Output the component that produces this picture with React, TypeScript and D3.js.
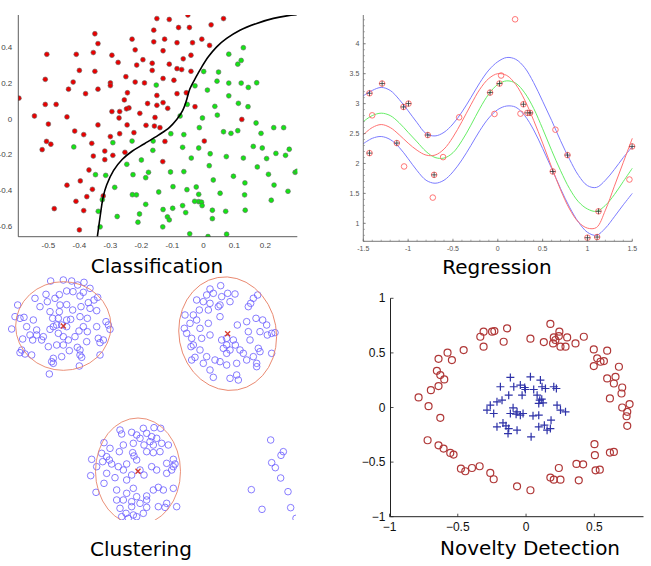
import React from 'react';
import * as d3 from 'd3';

type P = [number, number];

// ---------------- Classification ----------------
const classRed: P[] = [
  [-0.05, 0.58], [-0.15, 0.56], [-0.11, 0.555], [0.065, 0.56], [0.025, 0.525], [-0.08, 0.51], [-0.045, 0.51],
  [-0.16, 0.495], [-0.35, 0.475], [-0.34, 0.42], [-0.23, 0.445], [-0.16, 0.43], [-0.125, 0.445], [-0.085, 0.425],
  [-0.035, 0.425], [-0.005, 0.445], [0.02, 0.41], [-0.505, 0.36], [-0.41, 0.36], [-0.355, 0.37], [-0.295, 0.355],
  [-0.275, 0.315], [-0.22, 0.385], [-0.13, 0.38], [-0.195, 0.33], [-0.215, 0.3], [-0.165, 0.31], [-0.04, 0.355],
  [-0.065, 0.335], [-0.11, 0.305], [-0.085, 0.28], [-0.07, 0.275], [-0.165, 0.27], [-0.04, 0.265], [-0.4, 0.27],
  [-0.35, 0.265], [-0.25, 0.235], [-0.51, 0.22], [-0.42, 0.205], [-0.3, 0.2], [-0.3, 0.185], [-0.22, 0.205],
  [-0.19, 0.2], [-0.13, 0.225], [-0.095, 0.215], [-0.15, 0.13], [-0.055, 0.145], [-0.435, 0.165], [-0.38, 0.14],
  [-0.34, 0.165], [-0.245, 0.145], [-0.255, 0.105], [-0.085, 0.14], [-0.595, 0.115], [-0.51, 0.08], [-0.475, 0.08],
  [-0.295, 0.04], [-0.27, 0.04], [-0.24, 0.06], [-0.248, 0.055], [-0.15, 0.075], [-0.115, 0.058], [-0.13, 0.09],
  [-0.18, 0.085], [-0.205, 0.03], [-0.027, 0.067], [-0.545, 0.015], [-0.44, 0.01], [-0.5, -0.03], [-0.34, -0.035],
  [-0.272, 0.004], [-0.246, -0.035], [-0.185, -0.037], [-0.156, 0.007], [-0.158, -0.041], [-0.14, -0.05],
  [0.124, -0.004], [-0.415, -0.069], [-0.386, -0.089], [-0.3, -0.1], [-0.27, -0.084], [-0.224, -0.078],
  [-0.506, -0.127], [-0.492, -0.143], [-0.52, -0.173], [-0.36, -0.138], [-0.318, -0.181], [-0.292, -0.205],
  [-0.355, -0.209], [-0.253, -0.188], [-0.124, -0.127], [0.003, -0.125], [-0.318, -0.229], [-0.131, -0.24],
  [-0.369, -0.287], [-0.44, -0.372], [-0.358, -0.395], [-0.411, -0.462], [-0.397, -0.348], [-0.376, -0.436],
  [-0.323, -0.432], [-0.481, -0.503], [-0.386, -0.514], [-0.4, -0.622],
];

const classGreen: P[] = [
  [0.129, 0.397], [0.082, 0.361], [0.122, 0.326], [0.111, 0.305], [0.001, 0.264], [0.049, 0.261], [-0.152, 0.188],
  [0.044, 0.21], [0.082, 0.199], [0.122, 0.199], [0.172, 0.201], [0.145, 0.175], [-0.027, 0.184], [0.013, 0.16],
  [0.082, 0.128], [0.037, 0.069], [0.113, 0.086], [0.144, 0.067], [-0.052, 0.08], [-0.075, 0.015], [-0.003, 0.004],
  [0.045, 0.02], [0.17, -0.024], [0.259, -0.05], [0.227, -0.05], [-0.013, -0.05], [0.065, -0.073], [0.089, -0.082],
  [0.111, -0.067], [0.186, -0.082], [-0.105, -0.084], [-0.063, -0.089], [-0.067, -0.16], [-0.162, -0.125],
  [-0.23, -0.125], [-0.292, -0.134], [-0.418, -0.158], [-0.163, -0.177], [-0.015, -0.164], [-0.039, -0.22],
  [0.022, -0.196], [0.074, -0.212], [0.129, -0.22], [0.161, -0.155], [0.19, -0.164], [0.234, -0.194],
  [0.265, -0.205], [0.277, -0.171], [0.204, -0.223], [0.174, -0.27], [0.019, -0.263], [-0.2, -0.231],
  [-0.247, -0.255], [-0.106, -0.298], [-0.063, -0.296], [-0.177, -0.3], [-0.227, -0.313], [-0.186, -0.33],
  [-0.348, -0.313], [-0.315, -0.317], [0.097, -0.322], [0.21, -0.311], [0.296, -0.3], [0.302, -0.294],
  [0.032, -0.343], [0.134, -0.359], [0.228, -0.371], [0.273, -0.406], [-0.286, -0.384], [-0.144, -0.41],
  [-0.098, -0.38], [-0.053, -0.397], [-0.023, -0.382], [-0.015, -0.423], [-0.229, -0.425], [-0.216, -0.426],
  [-0.326, -0.453], [-0.015, -0.464], [-0.006, -0.467], [-0.028, -0.462], [-0.067, -0.486], [-0.186, -0.479],
  [0.133, -0.426], [0.054, -0.417], [0.219, -0.456], [0.135, -0.512], [-0.13, -0.508], [-0.099, -0.501],
  [-0.057, -0.525], [0.029, -0.512], [0.072, -0.518], [-0.339, -0.518], [-0.004, -0.486], [-0.116, -0.549],
  [-0.11, -0.566], [-0.278, -0.547], [-0.206, -0.533], [-0.211, -0.579], [0.029, -0.559], [-0.333, -0.605],
  [-0.131, -0.605], [-0.044, -0.644], [0.015, -0.659], [0.075, -0.646],
];

const boundary: P[] = [
  [-0.342, -0.66], [-0.333, -0.547], [-0.323, -0.436], [-0.312, -0.371], [-0.29, -0.29], [-0.262, -0.228],
  [-0.23, -0.182], [-0.19, -0.14], [-0.145, -0.092], [-0.11, -0.05], [-0.086, -0.005], [-0.067, 0.045],
  [-0.055, 0.1], [-0.044, 0.165], [-0.024, 0.232], [-0.005, 0.29], [0.016, 0.346], [0.043, 0.402],
  [0.075, 0.449], [0.118, 0.495], [0.172, 0.533], [0.226, 0.561], [0.269, 0.575], [0.301, 0.581],
];
const classXTicks = [-0.5, -0.4, -0.3, -0.2, -0.1, 0, 0.1, 0.2];
const classYTicks = [0.4, 0.2, 0, -0.2, -0.4, -0.6];

// ---------------- Regression ----------------
const regX = [-1.5, -1.4, -1.3, -1.2, -1.1, -1.0, -0.9, -0.8, -0.7, -0.6, -0.5, -0.4, -0.3, -0.2, -0.1, 0,
  0.1, 0.2, 0.3, 0.4, 0.5, 0.6, 0.7, 0.8, 0.9, 1.0, 1.1, 1.2, 1.3, 1.4, 1.5];
const regUpper = [3.13, 3.22, 3.27, 3.22, 3.07, 2.88, 2.68, 2.5, 2.46, 2.52, 2.66, 2.86, 3.1, 3.35, 3.56, 3.7,
  3.77, 3.74, 3.6, 3.35, 3.04, 2.72, 2.38, 2.07, 1.8, 1.63, 1.6, 1.72, 1.9, 2.1, 2.28];
const regLower = [2.33, 2.42, 2.45, 2.4, 2.27, 2.08, 1.88, 1.72, 1.67, 1.72, 1.86, 2.06, 2.3, 2.55, 2.76, 2.9,
  2.96, 2.94, 2.8, 2.56, 2.25, 1.92, 1.58, 1.27, 1.02, 0.85, 0.8, 0.92, 1.11, 1.31, 1.5];
const regRed = [2.48, 2.6, 2.65, 2.6, 2.48, 2.34, 2.22, 2.14, 2.14, 2.24, 2.44, 2.7, 2.98, 3.24, 3.42, 3.5,
  3.47, 3.32, 3.06, 2.72, 2.34, 1.94, 1.56, 1.24, 1.02, 0.92, 0.93, 1.22, 1.62, 2.02, 2.42];
const regGreen = [2.7, 2.8, 2.84, 2.8, 2.68, 2.52, 2.36, 2.2, 2.1, 2.09, 2.18, 2.38, 2.64, 2.92, 3.16, 3.32,
  3.38, 3.34, 3.18, 2.92, 2.58, 2.22, 1.88, 1.58, 1.36, 1.24, 1.2, 1.3, 1.48, 1.7, 1.92];
const regMarked: P[] = [
  [-1.431, 3.173], [-1.29, 3.335], [-1.052, 2.944], [-0.996, 3.0], [-1.126, 2.341], [-1.431, 2.173],
  [-0.781, 2.475], [-0.71, 1.81], [-0.086, 3.184], [0.019, 3.335], [0.286, 2.989], [0.33, 2.845], [0.36, 2.845],
  [0.613, 1.866], [0.777, 2.14], [1.123, 1.201], [1.108, 0.771], [1.0, 0.76], [1.498, 2.285],
];
const regOpen: P[] = [
  [0.193, 4.408], [0.037, 3.469], [-1.401, 2.804], [-0.431, 2.771], [-0.037, 2.827], [0.253, 2.832],
  [0.643, 2.564], [-1.045, 1.95], [-0.61, 2.106], [-0.725, 1.43], [1.468, 1.732],
];
const regXTicks = [-1.5, -1, -0.5, 0, 0.5, 1, 1.5];
const regYTicks = [1, 1.5, 2, 2.5, 3, 3.5, 4];

// ---------------- Clustering ----------------
const clusterA: P[] = [
  [15.2, 71.7], [19.0, 72.0], [21.5, 71.7], [25.2, 71.3], [23.3, 70.5], [27.0, 69.5], [29.3, 66.8], [28.2, 66.0],
  [26.5, 65.2], [25.0, 68.3], [24.0, 67.2], [21.9, 68.5], [20.0, 68.7], [17.8, 67.6], [16.5, 66.5], [13.8, 67.7],
  [10.5, 66.5], [12.0, 64.0], [14.2, 65.5], [5.3, 64.5], [18.0, 64.5], [20.0, 64.6], [21.8, 63.0], [24.3, 64.0],
  [27.0, 63.5], [29.0, 62.8], [4.5, 61.0], [6.0, 60.5], [7.2, 60.8], [10.0, 60.0], [15.0, 62.5], [17.8, 62.5],
  [15.8, 60.5], [17.5, 60.5], [20.0, 60.0], [21.2, 60.2], [24.0, 61.0], [26.2, 60.5], [29.0, 58.0], [31.8, 59.5],
  [32.5, 58.5], [33.0, 57.2], [3.5, 57.3], [8.0, 58.0], [11.0, 57.0], [9.0, 55.5], [11.0, 55.5], [12.5, 54.0],
  [13.0, 55.0], [6.8, 54.3], [9.8, 54.0], [16.0, 58.0], [17.0, 58.5], [15.0, 57.2], [18.5, 58.5], [20.0, 58.0],
  [23.7, 56.7], [25.0, 58.0], [26.2, 56.5], [17.5, 56.0], [20.5, 54.0], [19.0, 55.0], [22.5, 55.0], [29.5, 54.5],
  [31.0, 54.0], [30.0, 53.2], [17.0, 52.5], [19.0, 52.5], [14.5, 52.0], [20.8, 50.8], [23.2, 51.8], [26.0, 53.5],
  [24.0, 51.0], [6.5, 51.0], [7.5, 49.8], [9.5, 49.5], [6.0, 50.2], [18.5, 49.0], [16.0, 48.5], [24.0, 49.5],
  [24.5, 48.8], [30.0, 49.5], [16.0, 47.0], [15.5, 47.5], [23.8, 46.2], [14.8, 43.8],
];
const clusterB: P[] = [
  [63.0, 69.3], [66.2, 70.3], [62.0, 67.5], [64.0, 68.0], [68.3, 68.0], [70.5, 67.8], [66.5, 67.0], [59.0, 66.0],
  [61.0, 65.5], [63.0, 65.0], [66.0, 64.5], [69.0, 65.5], [77.3, 67.5], [76.0, 66.5], [75.2, 65.0], [74.5, 64.0],
  [55.5, 61.5], [58.0, 61.5], [62.5, 63.0], [65.5, 64.0], [59.8, 63.0], [59.0, 60.0], [57.0, 59.0], [55.3, 57.5],
  [60.0, 57.5], [62.5, 59.0], [66.0, 61.0], [71.2, 58.5], [74.0, 59.5], [76.8, 60.5], [78.8, 60.0], [80.0, 58.5],
  [56.0, 56.0], [57.5, 54.5], [58.0, 52.5], [60.5, 54.5], [63.0, 55.5], [66.5, 54.0], [68.0, 54.5], [70.0, 54.0],
  [70.6, 52.5], [74.5, 56.5], [75.0, 54.0], [78.0, 56.5], [80.2, 55.5], [81.5, 56.0], [82.5, 56.2], [57.3, 52.0],
  [60.0, 51.0], [58.5, 48.8], [57.5, 48.0], [62.0, 49.0], [64.5, 48.0], [67.0, 51.5], [69.0, 51.0], [68.0, 52.5],
  [68.0, 50.0], [72.0, 51.0], [73.0, 50.0], [77.5, 51.5], [78.0, 50.5], [81.5, 50.0], [61.0, 47.0], [66.0, 47.5],
  [68.0, 46.5], [71.0, 47.0], [74.0, 48.0], [76.0, 49.0], [77.0, 47.0], [77.0, 46.0], [63.0, 45.0], [64.0, 42.8],
  [69.0, 42.5], [71.0, 43.5], [71.5, 42.0],
];
const clusterC: P[] = [
  [36.0, 27.0], [36.5, 25.8], [39.5, 26.3], [43.0, 27.5], [46.2, 27.7], [48.2, 27.5], [41.0, 25.5], [44.0, 26.0],
  [45.5, 25.0], [47.0, 24.5], [31.2, 23.2], [33.0, 21.5], [30.5, 20.0], [32.0, 19.0], [32.8, 18.0], [35.8, 20.5],
  [37.0, 22.5], [40.0, 23.0], [42.0, 24.5], [43.2, 22.5], [45.0, 23.5], [46.0, 22.5], [50.5, 22.5], [48.5, 23.0],
  [27.5, 18.2], [30.8, 17.5], [33.5, 16.8], [35.5, 16.0], [38.0, 16.8], [39.8, 20.2], [40.2, 19.2], [41.0, 18.0],
  [44.0, 20.5], [46.0, 20.2], [48.0, 20.5], [52.0, 18.2], [52.5, 16.8], [50.0, 17.0], [27.2, 13.3], [29.0, 16.0],
  [32.0, 14.0], [31.2, 11.0], [34.5, 12.7], [37.0, 15.0], [38.0, 12.0], [39.5, 13.5], [42.0, 15.0], [43.2, 13.5],
  [45.5, 16.0], [47.0, 15.0], [50.0, 14.0], [51.5, 15.0], [52.0, 16.0], [28.8, 8.3], [35.0, 9.0], [38.0, 8.0],
  [40.0, 9.5], [41.0, 7.0], [44.0, 7.2], [46.0, 9.0], [47.5, 9.8], [49.0, 9.0], [52.0, 9.5], [35.0, 6.0],
  [37.0, 6.0], [39.5, 5.5], [42.0, 5.0], [44.0, 6.0], [47.5, 4.0], [50.0, 5.0], [49.5, 3.8], [53.0, 4.0],
  [36.0, 3.5], [37.8, 2.0], [40.0, 1.5], [36.5, 1.0], [38.5, 0.5], [41.0, 1.0], [43.0, 2.0], [39.5, 4.0], [44.0, 3.8],
];
const clusterD: P[] = [
  [81.2, 24.0], [85.0, 20.5], [84.3, 19.4], [81.5, 17.2], [82.6, 15.7], [84.2, 12.6], [75.4, 9.1], [86.4, 8.5],
  [78.6, 3.2], [87.2, 3.7], [88.8, 0.5],
];
const clusterCenters: P[] = [[19.0, 58.2], [68.3, 55.9], [41.4, 14.6]];
const clusterSpreadX = [14.3, 14.6, 12.75];
const clusterSpreadY = [13.3, 17.1, 16.0];
const clusterTilt = [0, -10, 0];

// ---------------- Novelty Detection ----------------
const novOut: P[] = [
  [0.178, 0.765], [0.244, 0.694], [0.24, 0.654], [0.301, 0.642], [0.203, 0.642], [0.215, 0.618], [0.13, 0.599],
  [0.032, 0.63], [0.198, 0.587], [0.252, 0.557], [0.289, 0.557], [0.362, 0.587], [0.423, 0.648], [0.496, 0.532],
  [0.594, 0.52], [0.521, 0.45], [0.545, 0.419], [0.57, 0.425], [0.496, 0.379], [0.68, 0.373], [0.594, 0.266],
  [0.655, 0.281], [0.643, 0.22], [0.704, 0.183], [0.699, 0.128], [0.614, 0.083], [0.758, 0.031], [0.704, 0.0],
  [0.741, -0.04], [0.736, -0.08], [0.741, -0.168], [-0.139, 0.725], [-0.164, 0.602], [-0.232, 0.7],
  [-0.249, 0.694], [-0.311, 0.694], [-0.335, 0.648], [-0.311, 0.557], [-0.457, 0.526], [-0.575, 0.502],
  [-0.543, 0.434], [-0.641, 0.446], [-0.653, 0.336], [-0.628, 0.297], [-0.599, 0.257], [-0.641, 0.196],
  [-0.697, 0.159], [-0.787, 0.092], [-0.714, 0.012], [-0.628, -0.095], [-0.721, -0.3], [-0.641, -0.346],
  [-0.604, -0.376], [-0.555, -0.416], [-0.531, -0.431], [-0.477, -0.56], [-0.445, -0.584], [-0.396, -0.554],
  [-0.34, -0.538], [-0.262, -0.599], [-0.237, -0.657], [-0.066, -0.722], [0.032, -0.758], [0.178, -0.642],
  [0.203, -0.661], [0.252, -0.661], [0.24, -0.554], [0.369, -0.517], [0.418, -0.52], [0.386, -0.667],
  [0.501, -0.336], [0.504, -0.437], [0.509, -0.575], [0.54, -0.569], [0.614, -0.413], [0.643, -0.407],
];
const novIn: P[] = [
  [-0.115, 0.275], [0.032, 0.281], [0.105, 0.251], [-0.042, 0.205], [-0.188, 0.19], [-0.09, 0.19], [-0.01, 0.183],
  [0.117, 0.19], [0.142, 0.174], [0.203, 0.19], [0.222, 0.174], [0.056, 0.165], [0.081, 0.113], [-0.127, 0.113],
  [-0.029, 0.113], [-0.213, 0.052], [-0.262, 0.021], [-0.176, 0.067], [-0.095, -0.003], [-0.066, -0.04],
  [0.1, 0.067], [0.093, 0.037], [0.125, 0.043], [0.227, 0.021], [0.252, -0.024], [0.289, -0.04], [-0.286, -0.024],
  [-0.237, -0.055], [-0.115, -0.055], [-0.042, -0.07], [-0.022, -0.055], [0.051, -0.076], [0.093, -0.07],
  [0.183, -0.116], [0.134, -0.162], [0.093, -0.177], [0.178, -0.193], [-0.213, -0.177], [-0.169, -0.141],
  [-0.147, -0.168], [-0.127, -0.193], [-0.066, -0.208], [-0.132, -0.239], [0.037, -0.269], [0.154, -0.208],
  [-0.073, -0.061], [-0.005, 0.165], [0.115, 0.076],
];
const novXTicks = [-1, -0.5, 0, 0.5];
const novYTicks = [1, 0.5, 0, -0.5, -1];

const titleFont = '"DejaVu Sans", Verdana, sans-serif';
const tickFont = '"Liberation Sans", Arial, sans-serif';

function Classification() {
  const x = d3.scaleLinear().domain([-0.597, 0.303]).range([18.3, 297.3]);
  const y = d3.scaleLinear().domain([-0.66, 0.58]).range([236.7, 15]);
  const line = d3.line<P>().x(d => x(d[0])).y(d => y(d[1])).curve(d3.curveCatmullRom);
  const [x0, x1] = x.range();
  const [y0, y1] = y.range();
  return (
    <g>
      <defs>
        <clipPath id="clsClip">
          <rect x={x0} y={y1} width={x1 - x0} height={y0 - y1} />
        </clipPath>
      </defs>
      <g clipPath="url(#clsClip)">
        {classRed.map((d, i) => (
          <circle key={'r' + i} cx={x(d[0])} cy={y(d[1])} r={2.4} fill="#ea0000" stroke="#666" strokeWidth={0.6} />
        ))}
        {classGreen.map((d, i) => (
          <circle key={'g' + i} cx={x(d[0])} cy={y(d[1])} r={2.4} fill="#14e414" stroke="#666" strokeWidth={0.6} />
        ))}
        <path d={line(boundary) || ''} fill="none" stroke="#000" strokeWidth={1.6} />
      </g>
      <line x1={x0} x2={x0} y1={y1} y2={y0} stroke="#333" strokeWidth={0.8} />
      <line x1={x0} x2={x1} y1={y0} y2={y0} stroke="#333" strokeWidth={0.8} />
      {classXTicks.map(t => (
        <text key={'xt' + t} x={x(t)} y={y0 + 11} fontSize={8} fill="#444" textAnchor="middle" fontFamily={tickFont}>{String(t)}</text>
      ))}
      {classYTicks.map(t => (
        <text key={'yt' + t} x={x0 - 6} y={y(t) + 3} fontSize={8} fill="#444" textAnchor="end" fontFamily={tickFont}>{String(t)}</text>
      ))}
      <text x={157} y={273} fontSize={20} fontFamily={titleFont} textAnchor="middle" fill="#000">Classification</text>
    </g>
  );
}

function Regression() {
  const x = d3.scaleLinear().domain([-1.5, 1.5]).range([363.3, 632.3]);
  const y = d3.scaleLinear().domain([0.7, 4.48]).range([241.3, 15]);
  const mk = (vals: number[]) =>
    d3.line<number>().x((_, i) => x(regX[i])).y(d => y(d)).curve(d3.curveCatmullRom)(vals) || '';
  const [x0, x1] = x.range();
  const [y0, y1] = y.range();
  const minorX = d3.range(-15, 16).map(v => v / 10);
  const minorY = d3.range(7, 45).map(v => v / 10);
  return (
    <g>
      <path d={mk(regUpper)} fill="none" stroke="#7c7cff" strokeWidth={1} />
      <path d={mk(regLower)} fill="none" stroke="#7c7cff" strokeWidth={1} />
      <path d={mk(regGreen)} fill="none" stroke="#66ee66" strokeWidth={1} />
      <path d={mk(regRed)} fill="none" stroke="#ff7272" strokeWidth={1} />
      {regOpen.map((d, i) => (
        <circle key={'o' + i} cx={x(d[0])} cy={y(d[1])} r={2.8} fill="none" stroke="#ff6666" strokeWidth={0.9} />
      ))}
      {regMarked.map((d, i) => (
        <g key={'m' + i}>
          <circle cx={x(d[0])} cy={y(d[1])} r={2.8} fill="none" stroke="#ff6666" strokeWidth={0.9} />
          <line x1={x(d[0]) - 2.8} x2={x(d[0]) + 2.8} y1={y(d[1])} y2={y(d[1])} stroke="#333" strokeWidth={0.8} />
          <line x1={x(d[0])} x2={x(d[0])} y1={y(d[1]) - 2.8} y2={y(d[1]) + 2.8} stroke="#333" strokeWidth={0.8} />
        </g>
      ))}
      <line x1={x0} x2={x0} y1={y1} y2={y0} stroke="#555" strokeWidth={0.8} />
      <line x1={x0} x2={x1} y1={y0} y2={y0} stroke="#555" strokeWidth={0.8} />
      {minorX.map(t => (
        <line key={'mx' + t} x1={x(t)} x2={x(t)} y1={y0} y2={y0 - 1.6} stroke="#777" strokeWidth={0.6} />
      ))}
      {minorY.map(t => (
        <line key={'my' + t} x1={x0} x2={x0 + 1.6} y1={y(t)} y2={y(t)} stroke="#777" strokeWidth={0.6} />
      ))}
      {regXTicks.map(t => (
        <g key={'xt' + t}>
          <line x1={x(t)} x2={x(t)} y1={y0} y2={y0 - 2.6} stroke="#666" strokeWidth={0.6} />
          <text x={x(t)} y={y0 + 10} fontSize={7} fill="#555" textAnchor="middle" fontFamily={tickFont}>{String(t)}</text>
        </g>
      ))}
      {regYTicks.map(t => (
        <g key={'yt' + t}>
          <line x1={x0} x2={x0 + 2.6} y1={y(t)} y2={y(t)} stroke="#666" strokeWidth={0.6} />
          <text x={x0 - 4} y={y(t) + 2.5} fontSize={7} fill="#555" textAnchor="end" fontFamily={tickFont}>{String(t)}</text>
        </g>
      ))}
      <text x={497} y={274} fontSize={20} fontFamily={titleFont} textAnchor="middle" fill="#000">Regression</text>
    </g>
  );
}

function Clustering() {
  const x = d3.scaleLinear().domain([0, 93]).range([0, 310]);
  const y = d3.scaleLinear().domain([0, 75]).range([520, 270]);
  const groups = [clusterA, clusterB, clusterC, clusterD];
  return (
    <g>
      <defs>
        <clipPath id="cluClip">
          <rect x={x(0)} y={262} width={x(88.8) - x(0)} height={y(0) - 262} />
        </clipPath>
      </defs>
      <g clipPath="url(#cluClip)">
        {groups.map((g, gi) =>
          g.map((d, i) => (
            <circle key={gi + '-' + i} cx={x(d[0])} cy={y(d[1])} r={3.3} fill="none" stroke="#6a5cff" strokeWidth={0.8} />
          ))
        )}
        {clusterCenters.map((c, i) => {
          const cx = x(c[0]);
          const cy = y(c[1]);
          const rx = x(c[0] + clusterSpreadX[i]) - cx;
          const ry = cy - y(c[1] + clusterSpreadY[i]);
          return (
            <g key={'e' + i}>
              <ellipse cx={cx} cy={cy} rx={rx} ry={ry} fill="none" stroke="#e8846a" strokeWidth={0.9}
                transform={`rotate(${clusterTilt[i]} ${cx} ${cy})`} />
              <path d={`M${cx - 2.5},${cy - 2.5}L${cx + 2.5},${cy + 2.5}M${cx - 2.5},${cy + 2.5}L${cx + 2.5},${cy - 2.5}`}
                stroke="#d83a2a" strokeWidth={1.3} />
            </g>
          );
        })}
      </g>
      <text x={141} y={556} fontSize={20} fontFamily={titleFont} textAnchor="middle" fill="#000">Clustering</text>
    </g>
  );
}

function Novelty() {
  const x = d3.scaleLinear().domain([-1, 0.86]).range([389.5, 643.5]);
  const y = d3.scaleLinear().domain([-1, 1]).range([516.7, 298.3]);
  const [x0, x1] = x.range();
  const [y0, y1] = y.range();
  const fmt = (t: number) => String(t).replace('-', '\u2212');
  return (
    <g>
      {novOut.map((d, i) => (
        <circle key={'o' + i} cx={x(d[0])} cy={y(d[1])} r={3.5} fill="none" stroke="#b03838" strokeWidth={1.2} />
      ))}
      {novIn.map((d, i) => (
        <path key={'p' + i}
          d={`M${x(d[0]) - 4},${y(d[1])}H${x(d[0]) + 4}M${x(d[0])},${y(d[1]) - 4}V${y(d[1]) + 4}`}
          stroke="#2e32a8" strokeWidth={1.2} />
      ))}
      <line x1={x0 + 1} x2={x0 + 1} y1={y1} y2={y0} stroke="#222" strokeWidth={1} />
      <line x1={x0} x2={x1} y1={y0} y2={y0} stroke="#222" strokeWidth={1} />
      {novXTicks.map(t => (
        <g key={'xt' + t}>
          <line x1={x(t)} x2={x(t)} y1={y0} y2={y0 - 3} stroke="#222" strokeWidth={0.8} />
          <text x={x(t)} y={y0 + 14} fontSize={12} fill="#111" textAnchor="middle" fontFamily={tickFont}>{fmt(t)}</text>
        </g>
      ))}
      {novYTicks.map(t => (
        <g key={'yt' + t}>
          <line x1={x0 + 1} x2={x0 + 4} y1={y(t)} y2={y(t)} stroke="#222" strokeWidth={0.8} />
          <text x={x0 - 4} y={y(t) + 4} fontSize={12} fill="#111" textAnchor="end" fontFamily={tickFont}>{fmt(t)}</text>
        </g>
      ))}
      <text x={530} y={555} fontSize={20} fontFamily={titleFont} textAnchor="middle" fill="#000">Novelty Detection</text>
    </g>
  );
}

export default function App() {
  return (
    <svg width={651} height={566} style={{ position: 'absolute', left: 0, top: 0, background: '#fff' }}>
      <rect width={651} height={566} fill="#fff" />
      <Classification />
      <Regression />
      <Clustering />
      <Novelty />
    </svg>
  );
}
